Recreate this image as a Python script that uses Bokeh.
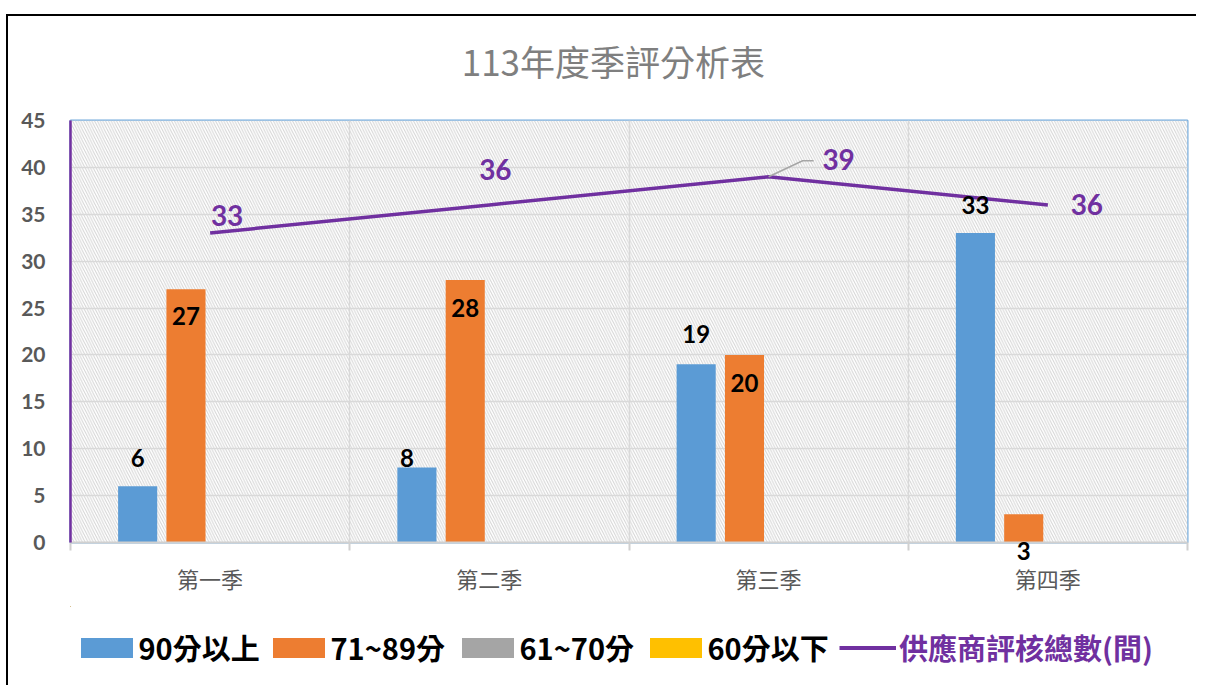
import numpy as np
from bokeh.plotting import figure
from bokeh.layouts import column
from bokeh.models import (ColumnDataSource, Range1d, FixedTicker, SingleIntervalTicker,
                          Legend, LegendItem, BoxAnnotation, LabelSet, LinearAxis, Label)
from bokeh.core.properties import value
from bokeh.embed import file_html
from bokeh.resources import INLINE

# ---------------- data ----------------
chart_title = "113年度季評分析表"
quarters = ["第一季", "第二季", "第三季", "第四季"]
series_names = ["90分以上", "71~89分", "61~70分", "60分以下"]
s_90_up = [6, 8, 19, 33]
s_71_89 = [27, 28, 20, 3]
s_61_70 = [0, 0, 0, 0]
s_60_down = [0, 0, 0, 0]
line_name = "供應商評核總數(間)"
totals = [33, 36, 39, 36]
y_ticks_interval = 5
y_max = 45

# ---------------- styles ----------------
bar_colors = ["#5b9bd5", "#ed7d31", "#a5a5a5", "#ffc000"]
bar_offsets = [-0.2595, -0.0865, 0.0865, 0.2595]
bar_width = 0.14
purple = "#7030a0"
label_font = "Lato"
cjk_font = "Noto Sans CJK TC"
blue_lbl_dx = [0, -10, 0, 0]
blue_lbl_dy = [-28, -9, -30, -28]
orange_lbl_dx = [0, 0, 0, 0]
orange_lbl_dy = [27, 28, 28, 37]
line_lbl_dx = [17, 6, 70, 39]
line_lbl_dy = [-18, -35, -17, 0]
leader_px = [(0, 0), (34, -16), (45, -16)]
legend_x = [3.5, 195.5, 384.5, 572.5, 769]   # px from frame left
legend_y = 17                                # px from strip bottom
title_pos = (0.486, 0.51)

W = 1188
S_TITLE, H1, H2 = 90, 500, 79
MB_L, MB_R, MB_T, MB_B = 62, 9, 14, 64
frame_w = W - MB_L - MB_R
frame_h = H1 - MB_T - MB_B
n = len(quarters)
ppx = frame_w / n
ppy = frame_h / y_max


def strip(height, xr, yr):
    f = figure(width=W, height=height, output_backend="svg", toolbar_location=None,
               x_range=xr, y_range=yr, x_axis_type=None, y_axis_type=None,
               min_border_left=0, min_border_right=0, min_border_top=0, min_border_bottom=0)
    f.outline_line_color = None
    f.grid.visible = False
    return f


# ---------------- title strip ----------------
ts = strip(S_TITLE, Range1d(0, 1), Range1d(0, 1))
ts.add_layout(Label(x=title_pos[0], y=title_pos[1], text=chart_title,
                    text_align="center", text_baseline="middle",
                    text_font=cjk_font, text_font_size="35px",
                    text_font_style="normal", text_color="#7f7f7f"))

# ---------------- chart ----------------
p = figure(width=W, height=H1, output_backend="svg", toolbar_location=None,
           x_range=Range1d(0, n), y_range=Range1d(0, y_max),
           min_border_left=MB_L, min_border_right=MB_R,
           min_border_top=MB_T, min_border_bottom=MB_B)

p.outline_line_color = "#5b9bd5"
p.outline_line_width = 2
p.outline_line_alpha = 0.85
p.add_layout(BoxAnnotation(fill_color="white", fill_alpha=1.0, line_alpha=0,
                           hatch_pattern="\\", hatch_color="#d3d3d3",
                           hatch_scale=5.5, hatch_weight=1.0, level="image"))

centers = [i + 0.5 for i in range(n)]
boundaries = list(range(n + 1))

xaxis = p.xaxis[0]
xaxis.ticker = FixedTicker(ticks=centers)
xaxis.major_label_overrides = {c: q for c, q in zip(centers, quarters)}
xaxis.axis_line_color = None
xaxis.major_tick_line_color = None
xaxis.minor_tick_line_color = None
xaxis.major_tick_out = 0
xaxis.minor_tick_out = 0
xaxis.major_label_standoff = -1
xaxis.major_label_text_font = cjk_font
xaxis.major_label_text_font_size = "22px"
xaxis.major_label_text_color = "#595959"

orange_x = [c + bar_offsets[1] for c in centers]
below = [i for i, (v, dy) in enumerate(zip(s_71_89, orange_lbl_dy)) if v * ppy - dy < 0]
above = [i for i in range(n) if i not in below]

near_axis = LinearAxis(
    ticker=FixedTicker(ticks=[orange_x[i] for i in below], minor_ticks=boundaries),
    major_label_overrides={orange_x[i]: str(s_71_89[i]) for i in below},
    axis_line_color="#d0d0d0", axis_line_width=2,
    major_tick_line_color=None, major_tick_out=0, major_tick_in=0,
    minor_tick_line_color="#d0d0d0", minor_tick_line_width=2,
    minor_tick_out=8, minor_tick_in=0,
    major_label_standoff=-9,
    major_label_text_font=label_font, major_label_text_font_style="bold",
    major_label_text_font_size="24px", major_label_text_color="#000000")
existing_below = list(p.below)
p.below = [near_axis] + existing_below

yaxis = p.yaxis[0]
yaxis.ticker = SingleIntervalTicker(interval=y_ticks_interval)
yaxis.axis_line_color = purple
yaxis.axis_line_width = 2.5
yaxis.major_tick_line_color = None
yaxis.minor_tick_line_color = None
yaxis.major_label_standoff = 19
yaxis.major_label_text_font = label_font
yaxis.major_label_text_font_style = "bold"
yaxis.major_label_text_font_size = "21px"
yaxis.major_label_text_color = "#595959"

p.xgrid.ticker = FixedTicker(ticks=boundaries)
p.xgrid.grid_line_color = "#d9d9d9"
p.xgrid.grid_line_width = 1.5
p.ygrid.grid_line_color = "#d9d9d9"
p.ygrid.grid_line_width = 1.5

series = [s_90_up, s_71_89, s_61_70, s_60_down]
bar_sources = []
for vals, col, off in zip(series, bar_colors, bar_offsets):
    src = ColumnDataSource(dict(x=[c + off for c in centers], top=vals))
    bar_sources.append(src)
    p.vbar(x="x", top="top", width=bar_width, bottom=0, source=src,
           fill_color=col, line_color=None)

lsrc = ColumnDataSource(dict(x=centers, y=totals))
p.line(x="x", y="y", source=lsrc, line_color=purple, line_width=3.5)

q3 = 2
lx = [centers[q3] + dx / ppx for dx, dy in leader_px]
ly = [totals[q3] - dy / ppy for dx, dy in leader_px]
p.line(lx, ly, line_color="#a6a6a6", line_width=1.5)

blue_src = ColumnDataSource(dict(x=[c + bar_offsets[0] for c in centers], y=s_90_up,
                                 t=[str(v) for v in s_90_up], dx=blue_lbl_dx,
                                 dy=[-d for d in blue_lbl_dy]))
orange_src = ColumnDataSource(dict(x=[orange_x[i] for i in above],
                                   y=[s_71_89[i] for i in above],
                                   t=[str(s_71_89[i]) for i in above],
                                   dx=[orange_lbl_dx[i] for i in above],
                                   dy=[-orange_lbl_dy[i] for i in above]))
for s in (blue_src, orange_src):
    p.add_layout(LabelSet(x="x", y="y", text="t", x_offset="dx", y_offset="dy", source=s,
                          text_align="center", text_baseline="middle", text_color="#000000",
                          text_font=value(label_font), text_font_style="bold",
                          text_font_size="24px"))

tl_src = ColumnDataSource(dict(x=centers, y=totals, t=[str(v) for v in totals],
                               dx=line_lbl_dx, dy=[-d for d in line_lbl_dy]))
p.add_layout(LabelSet(x="x", y="y", text="t", x_offset="dx", y_offset="dy", source=tl_src,
                      text_align="center", text_baseline="middle", text_color=purple,
                      text_font=value(label_font), text_font_style="bold",
                      text_font_size="28px"))

# ---------------- legend strip ----------------
lg = strip(H2, Range1d(100, 101), Range1d(-2, -1))
bar_proxies = [lg.vbar(x="x", top="top", width=bar_width, bottom=0, source=src,
                       fill_color=c, line_color=None)
               for src, c in zip(bar_sources, bar_colors)]
line_proxy = lg.line(x="x", y="y", source=lsrc, line_color=purple, line_width=4)

entries = list(zip(series_names, bar_proxies, ["#000000"] * 4, [65] * 4, [0] * 4))
entries.append((line_name, line_proxy, purple, 57, 3))
for (nm, r, tc, gw, so), vx in zip(entries, legend_x):
    lg.add_layout(Legend(items=[LegendItem(label=value(nm), renderers=[r])],
                         location=(vx, legend_y), orientation="horizontal",
                         glyph_width=gw, glyph_height=25, label_standoff=so,
                         padding=0, margin=0, border_line_alpha=0, background_fill_alpha=0,
                         label_text_font=cjk_font, label_text_font_style="bold",
                         label_text_font_size="29px", label_text_color=tc), "center")

layout = column(ts, p, lg, spacing=0)
layout.margin = (14, 0, 0, 6)
layout.styles = {"border-left": "2px solid #000000", "border-top": "2px solid #000000"}

open("out.html", "w").write(file_html(layout, INLINE))
